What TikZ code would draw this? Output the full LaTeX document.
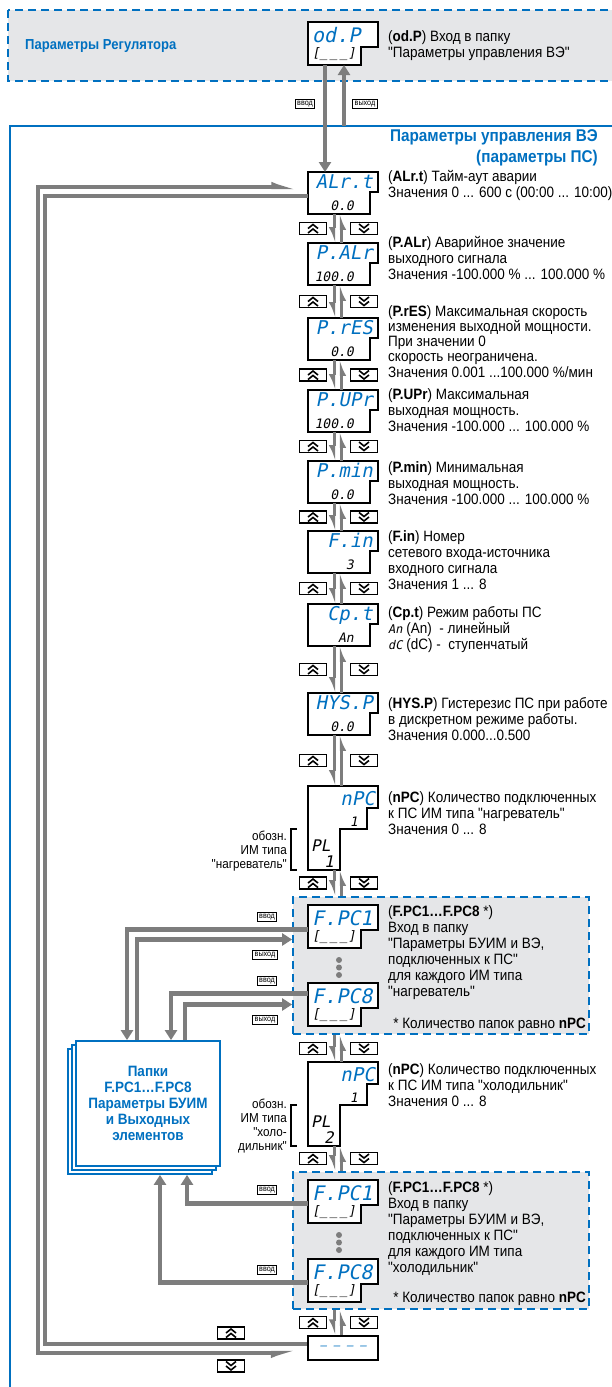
\documentclass[tikz,border=0pt]{standalone}
\usepackage{fontspec}
\setmainfont{Liberation Sans}[FakeStretch=0.9, Ligatures=TeXOff]
\newfontfamily\segfont{DejaVu Sans Mono}[FakeSlant=0.2]
\usetikzlibrary{arrows.meta,calc,positioning}

\definecolor{owenblue}{RGB}{0,112,192}
\definecolor{flowgray}{RGB}{125,125,125}
\definecolor{panelgray}{RGB}{229,230,232}

\newcommand{\segsm}[1]{{\segfont\fontsize{12}{12}\selectfont #1}}

\begin{document}
\begin{tikzpicture}[x=1pt, y=-1pt,
    disp/.style={minimum width=70pt, minimum height=42pt, inner sep=0pt, outer sep=0pt},
    displine/.style={draw=black, line width=1.4pt, fill=white},
    segtop/.style={font=\segfont\fontsize{19}{19}\selectfont, text=owenblue, inner sep=0pt},
    segbot/.style={font=\segfont\fontsize{13}{13}\selectfont, inner sep=0pt, anchor=base east},
    desc/.style={font=\fontsize{15}{16}\selectfont, align=left, anchor=north west, inner sep=0pt},
    heading/.style={font=\bfseries\fontsize{14.5}{17}\selectfont, text=owenblue, inner sep=0pt},
    panel/.style={draw=owenblue, line width=1.8pt, dash pattern=on 8pt off 5pt, fill=panelgray},
    frame/.style={draw=owenblue, line width=2.5pt},
    keybox/.style={draw, line width=1.2pt, fill=white, minimum width=27pt, minimum height=12pt, inner sep=0pt},
    upkey/.style={keybox, path picture={
        \draw[line width=1.6pt] ([shift={(-5pt,0pt)}]path picture bounding box.center) -- ++(5pt,4pt) -- ++(5pt,-4pt);
        \draw[line width=1.6pt] ([shift={(-5pt,-4.5pt)}]path picture bounding box.center) -- ++(5pt,4pt) -- ++(5pt,-4pt);}},
    dnkey/.style={keybox, path picture={
        \draw[line width=1.6pt] ([shift={(-5pt,0pt)}]path picture bounding box.center) -- ++(5pt,-4pt) -- ++(5pt,4pt);
        \draw[line width=1.6pt] ([shift={(-5pt,4.5pt)}]path picture bounding box.center) -- ++(5pt,-4pt) -- ++(5pt,4pt);}},
    tag/.style={draw, line width=1.1pt, fill=white, inner xsep=1.8pt, inner ysep=1.6pt, font=\fontsize{8}{8}\selectfont},
    flow/.style={draw=flowgray, line width=4.5pt, -{Triangle[length=10pt,width=12pt]}},
    updown/.style={draw=flowgray, line width=3pt, -{Latex[harpoon,swap,length=12pt,width=11pt]}},
    loopline/.style={draw=flowgray, line width=4.5pt},
    folder/.style={draw=owenblue, line width=1.8pt, fill=white}]

\useasboundingbox (0,0) rectangle (611,1387);

% Regulator parameters (upper folder)
\draw[panel] (8,10) rectangle (640,81);
\node[heading, anchor=west] (regtitle) at (25,46) {Параметры Регулятора};

% frame of the folder with the VE control parameters
\draw[frame] (10,1400) |- (640,126);
\coordinate (frametop) at (344,126);
\node[heading, font=\bfseries\fontsize{17}{21}\selectfont, align=right, anchor=north east] (vetitle) at (598,129) {Параметры управления ВЭ\\(параметры ПС)};

% dashed folders of the F.PC entries
\node[panel, minimum width=296pt, minimum height=137pt] (heat) at (441,965.5) {};
\node[panel, minimum width=296pt, minimum height=137pt] (cool) at (441,1240.5) {};

% parameter displays
\foreach \nm/\ty/\tp/\bt in {alrt/172/ALr.t/0.0, palr/243/P.ALr/100.0, pres/318/P.rES/0.0, pupr/390/P.UPr/100.0,
    pmin/461/P.min/0.0, fin/531/F.in/3, cpt/604/Cp.t/An, hysp/693/HYS.P/0.0}{
  \node[disp] (\nm) at (343,\ty+21) {};
  \draw[displine] (\nm.north west) -- (\nm.north east) -- ++(0,20) -- ++(-8,0) |- (\nm.south west) -- cycle;
  \node[segtop, anchor=base east] (\nm-top) at (373,\ty+16) {\tp};
  \node[segbot] (\nm-val) at (354,\ty+38) {\bt};
}

% folder entry displays
\foreach \nm/\ty/\tp in {odp/22/od.P, fpc1a/905/F.PC1, fpc8a/983/F.PC8, fpc1b/1180/F.PC1, fpc8b/1259/F.PC8}{
  \node[disp, minimum height=43pt] (\nm) at (343,\ty+21.5) {};
  \draw[displine] (\nm.north west) -- (\nm.north east) -- ++(0,25) -- ++(-17,0) |- (\nm.south west) -- cycle;
  \node[segtop, anchor=base west, font=\segfont\fontsize{20}{20}\selectfont] (\nm-top) at (312,\ty+20) {\tp};
  \node[segbot, anchor=base west] (\nm-val) at (312,\ty+35) {[\_\,\_\,\_]};
}

% number of actuators
\foreach \nm/\ty/\pl in {npca/786/1, npcb/1062/2}{
  \node[disp, minimum height=84pt] (\nm) at (343,\ty+42) {};
  \draw[displine] (\nm.north west) -- (\nm.north east) -- ++(0,22) -- ++(-11,0) -- ++(0,21) -- ++(-27,0) |- (\nm.south west) -- cycle;
  \node[segtop, anchor=base east] (\nm-top) at (375,\ty+19) {nPC};
  \node[segbot] (\nm-val) at (358,\ty+40) {1};
  \node[segbot, anchor=base west, font=\segfont\fontsize{16}{16}\selectfont] (\nm-pl) at (311,\ty+65) {PL};
  \node[segbot, font=\segfont\fontsize{16}{16}\selectfont] (\nm-type) at (334,\ty+81) {\pl};
  \draw[line width=2pt] (297,\ty+43) -- (291,\ty+43) -- (291,\ty+84) -- (297,\ty+84);
}
\node[font=\fontsize{13}{14}\selectfont, align=right, anchor=east, inner sep=0pt] (npca-note) at (287,851) {обозн.\\ИМ типа\\"нагреватель"};
\node[font=\fontsize{13}{14}\selectfont, align=right, anchor=east, inner sep=0pt] (npcb-note) at (287,1126) {обозн.\\ИМ типа\\"холо-\\дильник"};

% end of list
\node[draw, line width=1.4pt, minimum width=70pt, minimum height=24pt, inner sep=0pt, text=owenblue,
    font=\segfont\fontsize{11}{11}\selectfont] (blank) at (343,1348) {– – – –};

% dots between F.PC1 and F.PC8
\foreach \dy in {960,967.5,975,1235,1242.5,1250}
  \fill[flowgray] (339,\dy) circle (3pt);

% descriptions
\node[desc] (odp-desc) at (388,30) {(\textbf{od.P}) Вход в папку\\"Параметры управления ВЭ"};
\node[desc] (alrt-desc) at (388,170) {(\textbf{ALr.t}) Тайм-аут аварии\\Значения 0 ... 600 с (00:00 ... 10:00)};
\node[desc] (palr-desc) at (388,236) {(\textbf{P.ALr}) Аварийное значение\\выходного сигнала\\Значения -100.000 \% ... 100.000 \%};
\node[desc, font=\fontsize{15}{15.3}\selectfont] (pres-desc) at (388,305) {(\textbf{P.rES}) Максимальная скорость\\изменения выходной мощности.\\При значении 0\\скорость неограничена.\\Значения 0.001 ...100.000 \%/мин};
\node[desc] (pupr-desc) at (388,388) {(\textbf{P.UPr}) Максимальная\\выходная мощность.\\Значения -100.000 ... 100.000 \%};
\node[desc] (pmin-desc) at (388,461) {(\textbf{P.min}) Минимальная\\выходная мощность.\\Значения -100.000 ... 100.000 \%};
\node[desc] (fin-desc) at (388,530) {(\textbf{F.in}) Номер\\сетевого входа-источника\\входного сигнала\\Значения 1 ... 8};
\node[desc] (cpt-desc) at (388,606) {(\textbf{Cp.t}) Режим работы ПС\\\segsm{An} (An)\ \ - линейный\\\segsm{dC} (dC) -\ \ ступенчатый};
\node[desc] (hysp-desc) at (388,697) {(\textbf{HYS.P}) Гистерезис ПС при работе\\в дискретном режиме работы.\\Значения 0.000...0.500};
\node[desc] (npca-desc) at (388,791) {(\textbf{nPC}) Количество подключенных\\к ПС ИМ типа "нагреватель"\\Значения 0 ... 8};
\node[desc] (heat-desc) at (388,905) {(\textbf{F.PC1…F.PC8} *)\\Вход в папку\\"Параметры БУИМ и ВЭ,\\подключенных к ПС"\\для каждого ИМ типа\\"нагреватель"};
\node[desc, anchor=base east] (heat-star) at (586,1028) {* Количество папок равно \textbf{nPC}};
\node[desc] (npcb-desc) at (388,1063) {(\textbf{nPC}) Количество подключенных\\к ПС ИМ типа "холодильник"\\Значения 0 ... 8};
\node[desc] (cool-desc) at (388,1181) {(\textbf{F.PC1…F.PC8} *)\\Вход в папку\\"Параметры БУИМ и ВЭ,\\подключенных к ПС"\\для каждого ИМ типа\\"холодильник"};
\node[desc, anchor=base east] (cool-star) at (586,1302) {* Количество папок равно \textbf{nPC}};

% enter / exit of the VE folder
\draw[flow] (odp.south -| 325,0) -- (alrt.north -| 325,0);
\draw[flow] (frametop) -- (odp.south -| frametop);
\node[tag] (odp-in) at (305,104) {ввод};
\node[tag] (odp-out) at (365,104) {выход};

% scrolling through the list
\coordinate (lx) at (334,0);
\coordinate (rx) at (341,0);
\foreach \a/\b in {alrt/palr, palr/pres, pres/pupr, pupr/pmin, pmin/fin, fin/cpt, cpt/hysp, hysp/npca,
    npca/heat, heat/npcb, npcb/cool, cool/blank}{
  \draw[updown] (lx |- \a.south) -- (lx |- \b.north);
  \draw[updown] (rx |- \b.north) -- (rx |- \a.south);
  \node[upkey] (up-\a) at ($(313,0 |- \a.south)!0.5!(313,0 |- \b.north)$) {};
  \node[dnkey] (dn-\a) at ($(364,0 |- \a.south)!0.5!(364,0 |- \b.north)$) {};
}

% return from the end of the list
\coordinate (loopmid) at (38,770);
\draw[loopline, -{Latex[harpoon,length=22pt,width=10pt]}] (loopmid) |- ([yshift=6pt]alrt.west);
\draw[loopline, -{Latex[harpoon,swap,length=22pt,width=10pt]}] (loopmid) |- ([yshift=-5pt]blank.west);
\draw[loopline] ([yshift=-3pt]alrt.west) -| (45,770) |- ([yshift=4pt]blank.west);
\node[upkey] (loop-up) at (231,1333) {};
\node[dnkey] (loop-dn) at (231,1366) {};

% folders of the output elements
\foreach \s in {8,4}
  \draw[folder] (76-\s,1041+\s) rectangle (220-\s,1166+\s);
\node[folder, minimum width=144pt, minimum height=125pt, inner sep=0pt, align=center, text=owenblue,
    font=\bfseries\fontsize{15}{16}\selectfont] (fold) at (148,1103.5) {Папки\\F.PC1…F.PC8\\Параметры БУИМ\\и Выходных\\элементов};

% heater folders
\coordinate (ret1) at ($(fpc1a.west)+(0,13)$);
\draw[flow] ([yshift=-3pt]fpc1a.west) -| ($(fold.north)+(-21,0)$);
\draw[flow] ($(fold.north)+(-11,0)$) |- (heat.west |- ret1);
\coordinate (out8) at ($(fpc8a.west)+(0,-11)$);
\draw[flow] (out8) -| ($(fold.north)+(23,0)$);
\draw[flow] ($(fold.north)+(37,0)$) |- (heat.west |- fpc8a.west);
\node[tag] (heat-in1) at (267,917) {ввод};
\node[tag] (heat-out1) at (265,955) {выход};
\node[tag] (heat-in8) at (267,981) {ввод};
\node[tag] (heat-out8) at (265,1020) {выход};

% cooler folders
\draw[flow] ([yshift=-2pt]fpc1b.west) -| ($(fold.south)+(39,8)$);
\draw[flow] ([yshift=-2pt]fpc8b.west) -| ($(fold.south)+(12,8)$);
\node[tag] (cool-in1) at (267,1190) {ввод};
\node[tag] (cool-in8) at (267,1270) {ввод};
\end{tikzpicture}
\end{document}
